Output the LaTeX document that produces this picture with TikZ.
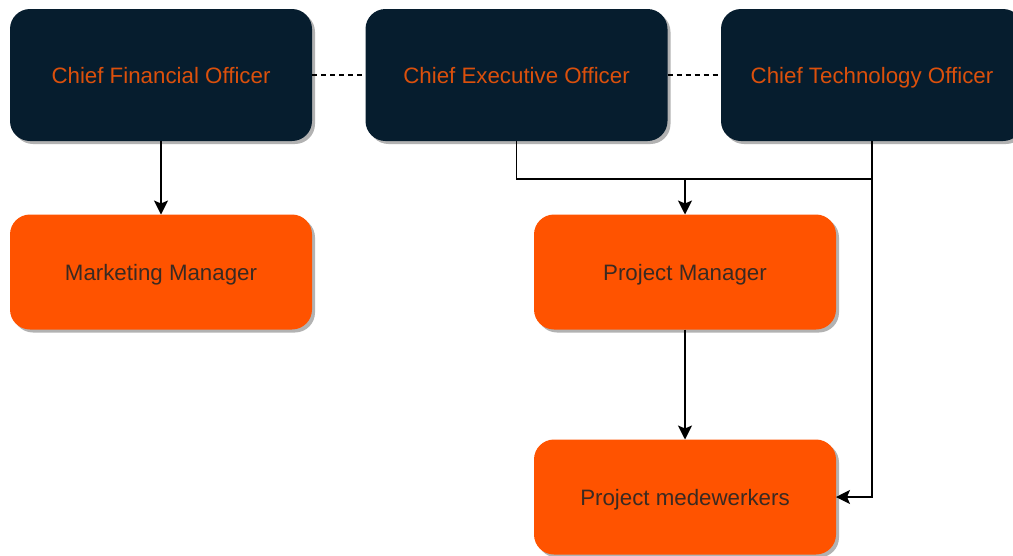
\documentclass[tikz,border=0pt]{standalone}
\usepackage{fontspec}
\setmainfont{Liberation Sans}
\usetikzlibrary{arrows.meta,shadows}
\definecolor{navy}{HTML}{061D2E}
\definecolor{brand}{HTML}{FF5300}
\definecolor{brandtext}{HTML}{DB500C}
\definecolor{darktext}{HTML}{3A2A22}
\begin{document}
\begin{tikzpicture}[x=1pt, y=-1pt,
    box/.style={rounded corners=20pt, minimum width=302pt, outer sep=0pt,
      font=\fontsize{22.3}{26}\selectfont, text height=16pt, text depth=0pt,
      drop shadow={shadow xshift=3pt, shadow yshift=-3pt, fill=black, opacity=0.3}},
    chief/.style={box, fill=navy, text=brandtext, minimum height=132pt},
    staff/.style={box, fill=brand, text=darktext, minimum height=115pt},
    link/.style={line width=1.3pt},
    tip/.style={link, -{Stealth[length=14pt, width=14pt, inset=3pt]}}]
    \useasboundingbox (0,0) rectangle (1013,555);
    % Top row
    \node[chief] (CFO) at (161,75) {Chief Financial Officer};
    \node[chief] (CEO) at (516.5,75) {Chief Executive Officer};
    \node[chief] (CTO) at (872,75) {Chief Technology Officer};
    % Lower boxes
    \node[staff] (MM) at (161,272) {Marketing Manager};
    \node[staff] (PM) at (685,272) {Project Manager};
    \node[staff] (PW) at (685,497) {Project medewerkers};
    % Dashed links
    \draw[link, dash pattern=on 5pt off 4pt] (CFO) -- (CEO);
    \draw[link, dash pattern=on 5pt off 4pt] (CEO) -- (CTO);
    % Arrows
    \coordinate (bus) at (685,179);
    \draw[tip] (CFO) -- (MM);
    \draw[link] (CEO.south) |- (bus -| CTO.south);
    \draw[tip] (bus) -- (PM);
    \draw[tip] (PM) -- (PW);
    \draw[tip] (CTO.south) |- (PW.east);
\end{tikzpicture}
\end{document}
